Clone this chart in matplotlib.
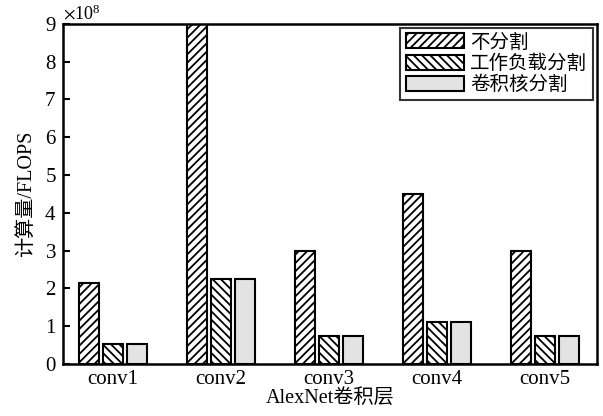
import matplotlib.pyplot as plt
import matplotlib.ticker as ticker
import numpy as np

plt.rcParams['font.family'] = ['Liberation Serif', 'Noto Sans CJK SC']
plt.rcParams['hatch.linewidth'] = 1.3
plt.rcParams['mathtext.fontset'] = 'stix'

layers = ['conv1', 'conv2', 'conv3', 'conv4', 'conv5']
no_split = [2.14e8, 9.0e8, 3.0e8, 4.5e8, 3.0e8]
workload_split = [0.53e8, 2.24e8, 0.74e8, 1.12e8, 0.74e8]
kernel_split = [0.53e8, 2.24e8, 0.74e8, 1.12e8, 0.74e8]
labels = ['不分割', '工作负载分割', '卷积核分割']

x = np.arange(len(layers))
w = 0.185
step = 0.222

fig, ax = plt.subplots(figsize=(6.03, 4.16), dpi=100)
fig.subplots_adjust(left=0.105, right=0.99, top=0.943, bottom=0.125)

ax.bar(x - step, no_split, w, color='white', edgecolor='black', linewidth=1.5,
       hatch='////', label=labels[0])
ax.bar(x, workload_split, w, color='white', edgecolor='black', linewidth=1.5,
       hatch='\\\\\\\\', label=labels[1])
ax.bar(x + step, kernel_split, w, color='#e3e3e3', edgecolor='black', linewidth=1.5,
       label=labels[2])

ax.set_xlim(-0.46, 4.48)
ax.set_ylim(0, 9e8)
ax.set_xticks(x)
ax.set_xticklabels(layers)
ax.set_yticks(np.arange(0, 10) * 1e8)
fmt = ticker.ScalarFormatter(useMathText=True)
fmt.set_powerlimits((8, 8))
ax.yaxis.set_major_formatter(fmt)
ax.yaxis.get_offset_text().set_fontsize(13)
ax.tick_params(axis='y', direction='in', length=5, width=1.5, labelsize=15, pad=5)
ax.tick_params(axis='x', length=0, labelsize=15, pad=4)
for s in ax.spines.values():
    s.set_linewidth(1.8)

ax.set_xlabel('AlexNet卷积层', fontsize=14.5, labelpad=0)
ax.set_ylabel('计算量/FLOPS', fontsize=14.5, labelpad=6)

leg = ax.legend(loc='upper right', fontsize=14, frameon=True, fancybox=False,
                edgecolor='black', handlelength=3.0, handleheight=0.8,
                handletextpad=0.3, labelspacing=0.15, borderpad=0.3,
                borderaxespad=0.2)
leg.get_frame().set_linewidth(1.5)

fig.savefig('out.png', dpi=100)
